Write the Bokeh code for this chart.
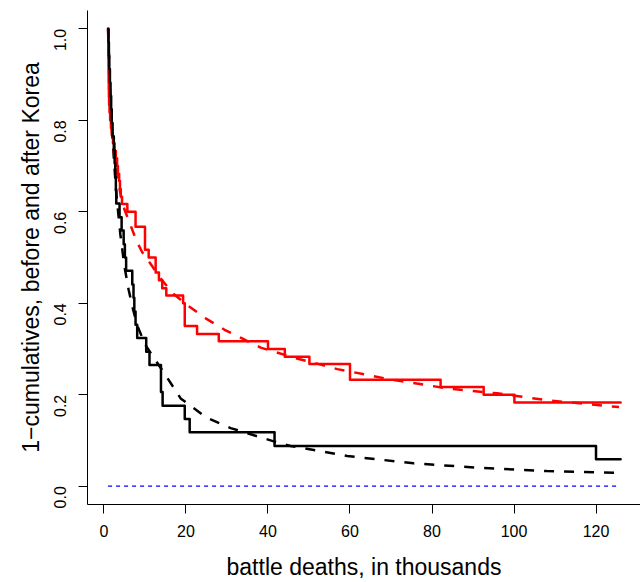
import math
from bokeh.plotting import figure
from bokeh.models import Range1d, FixedTicker
from bokeh.embed import file_html
from bokeh.resources import INLINE

# ---- data ----
black_x = [1.0, 1.1, 1.2, 1.3, 1.45, 1.6, 1.75, 1.9, 2.1, 2.4, 2.6, 2.75, 2.9, 3.0, 3.8, 4.3,
           4.8, 5.1, 5.4, 6.9, 7.2, 7.4, 7.7, 8.1, 10.3, 11.1, 13.9, 14.3, 19.7, 20.9, 41.6,
           120.0, 126.0]
black_y = [1.0, .971, .941, .912, .882, .853, .824, .794, .765, .735, .706, .676, .647, .618,
           .588, .559, .529, .5, .471, .441, .412, .382, .353, .324, .294, .265, .206, .176,
           .147, .118, .088, .059, .059]

red_x = [1.0, 1.02, 1.04, 1.06, 1.08, 1.1, 1.12, 1.14, 1.17, 1.2, 1.25, 1.35, 1.5, 1.7, 1.9,
         2.2, 2.6, 2.9, 3.2, 3.4, 3.7, 3.9, 4.1, 4.4, 5.7, 7.7, 10.0, 10.9, 12.6, 13.4, 14.2,
         15.2, 19.3, 19.7, 22.7, 28.0, 40.0, 44.1, 50.1, 60.0, 82.1, 92.6, 100.1, 126.0]
red_y = [1.0, .983, .967, .95, .933, .917, .9, .883, .867, .85, .833, .817, .8, .783, .767,
         .75, .733, .717, .7, .683, .667, .65, .633, .617, .6, .567, .517, .5, .467, .45, .433,
         .417, .4, .35, .333, .317, .3, .283, .267, .233, .217, .2, .183, .183]

black_fit_x = [1.0, 1.5, 2.0, 3.0, 4.0, 5.0, 6.0, 7.0, 8.1, 10.0, 12.6, 15.0, 18.7, 25.0,
               30.9, 41.8, 45.5, 59.3, 75.5, 91.8, 108.0, 125.0]
black_fit_y = [1.0, 0.86, 0.77, 0.64, 0.55, 0.48, 0.43, 0.39, 0.352, 0.31, 0.275, 0.243,
               0.192, 0.15, 0.127, 0.097, 0.088, 0.066, 0.05, 0.04, 0.033, 0.029]

red_fit_x = [1.0, 1.3, 1.7, 2.3, 3.0, 4.0, 5.0, 6.5, 8.0, 9.3, 11.3, 14.2, 17.0, 20.3, 24.8,
             29.4, 33.7, 38.2, 43.0, 47.5, 52.0, 56.9, 70.7, 83.7, 95.9, 108.1, 125.6]
red_fit_y = [1.0, 0.89, 0.81, 0.74, 0.69, 0.64, 0.605, 0.57, 0.535, 0.512, 0.487, 0.45, 0.42,
             0.396, 0.367, 0.342, 0.323, 0.303, 0.29, 0.278, 0.268, 0.256, 0.232, 0.214,
             0.203, 0.188, 0.173]

zero_x = [1.0, 125.0]
zero_y = [0.0, 0.0]

x_ticks = [0, 20, 40, 60, 80, 100, 120]
y_ticks = [0.0, 0.2, 0.4, 0.6, 0.8, 1.0]
y_tick_labels = {0.0: "0.0", 0.2: "0.2", 0.4: "0.4", 0.6: "0.6", 0.8: "0.8", 1.0: "1.0"}

FONT = "Liberation Sans"

p = figure(width=640, height=582, output_backend="svg", toolbar_location=None,
           x_range=Range1d(-4.02, 130.85), y_range=Range1d(-0.04, 1.04),
           min_border_left=87, min_border_right=0, min_border_top=10, min_border_bottom=78)
p.outline_line_color = None
p.background_fill_color = "white"
p.border_fill_color = "white"
p.xgrid.visible = False
p.ygrid.visible = False

for ax in (p.xaxis[0], p.yaxis[0]):
    ax.axis_line_color = "black"
    ax.axis_line_width = 1
    ax.major_tick_line_color = "black"
    ax.major_tick_in = 0
    ax.major_tick_out = 9
    ax.minor_tick_line_color = None
    ax.major_label_text_font = FONT
    ax.major_label_text_font_size = "16px"
    ax.major_label_text_color = "black"
    ax.axis_label_text_font = FONT
    ax.axis_label_text_font_size = "23px"
    ax.axis_label_text_font_style = "normal"
    ax.axis_label_text_color = "black"

p.xaxis.ticker = FixedTicker(ticks=x_ticks)
p.yaxis.ticker = FixedTicker(ticks=y_ticks)
p.yaxis.major_label_overrides = y_tick_labels
p.yaxis.major_label_orientation = math.pi / 2
p.xaxis.axis_label = "battle deaths, in thousands"
p.yaxis.axis_label = "1\u2212cumulatives, before and after Korea"
p.xaxis.major_label_standoff = 11
p.yaxis.major_label_standoff = 18
p.xaxis.axis_label_standoff = 14
p.yaxis.axis_label_standoff = 2

p.line(zero_x, zero_y, line_color="blue", line_width=1.2, line_dash="4 4")
p.line(black_fit_x, black_fit_y, line_color="black", line_width=2.5, line_dash="10 10")
p.line(red_fit_x, red_fit_y, line_color="red", line_width=2.5, line_dash="10 10")
p.step(red_x, red_y, mode="after", line_color="red", line_width=2.5,
       line_join="round", line_cap="round")
p.step(black_x, black_y, mode="after", line_color="black", line_width=2.5,
       line_join="round", line_cap="round")

open("out.html", "w").write(file_html(p, INLINE))
